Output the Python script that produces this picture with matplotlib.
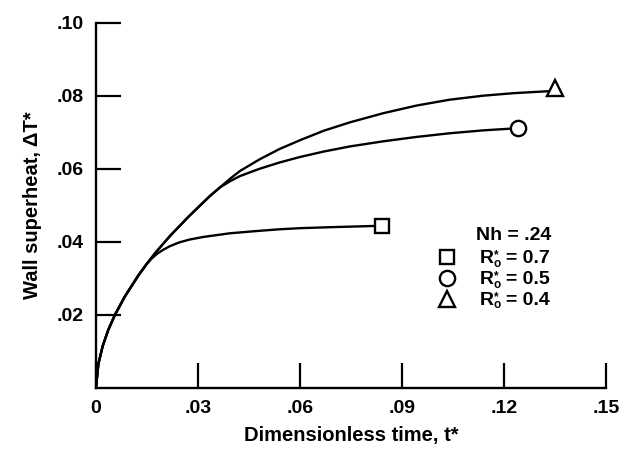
import matplotlib
matplotlib.use("Agg")
import matplotlib.pyplot as plt

plt.rcParams['font.family'] = ['Liberation Sans', 'DejaVu Sans']

# Curve for R*o = 0.7 (square)
t_07 = [0, 0.0007, 0.0020, 0.0036, 0.0056, 0.0085, 0.0125, 0.0150, 0.0165, 0.0180,
        0.0198, 0.0218, 0.0245, 0.0276, 0.0316, 0.0394, 0.047, 0.054, 0.060, 0.070,
        0.0816, 0.084]
dT_07 = [0, 0.0065, 0.0115, 0.0158, 0.0200, 0.0250, 0.0308, 0.0340, 0.0355, 0.0367,
         0.0378, 0.0388, 0.0398, 0.0406, 0.0413, 0.0423, 0.0429, 0.0434, 0.0437, 0.0440,
         0.0443, 0.0443]

# Curve for R*o = 0.5 (circle)
t_05 = [0, 0.0007, 0.0020, 0.0036, 0.0056, 0.0085, 0.0125, 0.0150, 0.0176, 0.0218,
        0.0276, 0.0335, 0.0365, 0.0395, 0.0424, 0.0482, 0.054, 0.060, 0.067, 0.0747,
        0.0845, 0.0943, 0.1040, 0.1139, 0.1242]
dT_05 = [0, 0.0065, 0.0115, 0.0158, 0.0200, 0.0250, 0.0308, 0.0340, 0.0371, 0.0416,
         0.0472, 0.0525, 0.0549, 0.0566, 0.0580, 0.0600, 0.0617, 0.0632, 0.0647, 0.0661,
         0.0675, 0.0687, 0.0697, 0.0705, 0.0711]

# Curve for R*o = 0.4 (triangle)
t_04 = [0, 0.0007, 0.0020, 0.0036, 0.0056, 0.0085, 0.0125, 0.0150, 0.0176, 0.0218,
        0.0276, 0.0335, 0.0365, 0.0395, 0.0424, 0.0482, 0.054, 0.060, 0.067, 0.0747,
        0.0845, 0.0943, 0.1040, 0.1139, 0.1230, 0.1326, 0.135]
dT_04 = [0, 0.0065, 0.0115, 0.0158, 0.0200, 0.0250, 0.0308, 0.0340, 0.0371, 0.0416,
         0.0472, 0.0525, 0.0549, 0.0573, 0.0594, 0.0626, 0.0654, 0.0678, 0.0704, 0.0727,
         0.0752, 0.0773, 0.0789, 0.0800, 0.0807, 0.0812, 0.0813]

x_ticks = [0, 0.03, 0.06, 0.09, 0.12, 0.15]
x_labels = ['0', '.03', '.06', '.09', '.12', '.15']
y_ticks = [0.02, 0.04, 0.06, 0.08, 0.10]
y_labels = ['.02', '.04', '.06', '.08', '.10']

legend_title = 'Nh = .24'
legend_values = ['= 0.7', '= 0.5', '= 0.4']

fig = plt.figure(figsize=(6.34, 4.51), dpi=100)
ax = fig.add_axes([0.1514, 0.1404, 0.8044, 0.8093])

lw = 1.7
for tt, dd in [(t_07, dT_07), (t_05, dT_05), (t_04, dT_04)]:
    ax.plot(tt, dd, color='black', lw=lw, solid_capstyle='round', solid_joinstyle='round')

mk = dict(markerfacecolor='white', markeredgecolor='black',
          markeredgewidth=1.7, linestyle='none', zorder=5, clip_on=False)
ax.plot(t_07[-1], dT_07[-1], marker='s', markersize=10.5, **mk)
ax.plot(t_05[-1], dT_05[-1], marker='o', markersize=11, **mk)
ax.plot(t_04[-1], dT_04[-1] + 0.0009, marker='^', markersize=11.5, **mk)

ax.set_xlim(0, 0.15)
ax.set_ylim(0, 0.10)
ax.set_xticks(x_ticks)
ax.set_xticklabels(x_labels)
ax.set_yticks(y_ticks)
ax.set_yticklabels(y_labels)
ax.tick_params(axis='both', direction='in', length=18, width=1.6, labelsize=14)
ax.tick_params(axis='x', pad=9)
ax.tick_params(axis='y', pad=9)
for lab in ax.get_xticklabels() + ax.get_yticklabels():
    lab.set_fontweight('bold')

for s in ['top', 'right']:
    ax.spines[s].set_visible(False)
for s in ['left', 'bottom']:
    ax.spines[s].set_linewidth(1.7)

ax.set_xlabel('Dimensionless time, t*', fontsize=14.5, fontweight='bold', labelpad=6)
ax.set_ylabel('Wall superheat, ΔT*', fontsize=14.5, fontweight='bold', labelpad=10)

# legend block
fs = 14
fig.text(514 / 634, 1 - 240 / 451, legend_title, fontsize=fs, fontweight='bold',
         ha='center', va='baseline')
markers = ['s', 'o', '^']
msizes = [10.5, 11, 11.5]
ys = [256.7, 277.8, 298.5]
for m, ms, yy, val in zip(markers, msizes, ys, legend_values):
    fig.lines.append(plt.Line2D([446.7 / 634], [1 - yy / 451], transform=fig.transFigure,
                                marker=m, markersize=ms,
                                markerfacecolor='white', markeredgecolor='black',
                                markeredgewidth=1.7, linestyle='none'))
    base = 1 - (yy + 6.5) / 451
    fig.text(480 / 634, base, 'R', fontsize=fs, fontweight='bold', ha='left', va='baseline')
    fig.text(493 / 634, base - 3.5 / 451, '*\no', fontsize=8.5, fontweight='bold',
             ha='center' if False else 'left', va='baseline', linespacing=0.62,
             multialignment='center')
    fig.text(506 / 634, base, val, fontsize=fs, fontweight='bold', ha='left', va='baseline')

fig.savefig('out.png', dpi=100)
